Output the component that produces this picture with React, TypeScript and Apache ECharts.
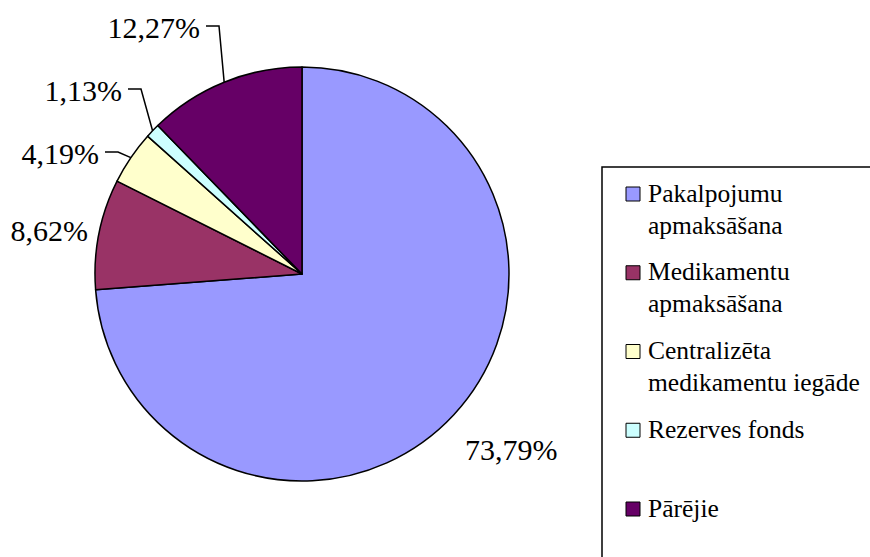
import React, { useEffect, useRef } from "react";
import * as echarts from "echarts";

const NAMES = [
  "Pakalpojumu apmaksāšana",
  "Medikamentu apmaksāšana",
  "Centralizēta medikamentu iegāde",
  "Rezerves fonds",
  "Pārējie",
];
const LEGEND_LINES = [
  ["Pakalpojumu", "apmaksāšana"],
  ["Medikamentu", "apmaksāšana"],
  ["Centralizēta", "medikamentu iegāde"],
  ["Rezerves fonds"],
  ["Pārējie"],
];
const VALUES = [73.79, 8.62, 4.19, 1.13, 12.27];
const COLORS = ["#9999FF", "#993366", "#FFFFCC", "#CCFFFF", "#660066"];

const CENTER = [302, 274];
const RADIUS = 207;
const W = 870;

// label anchor: right edge (or left edge for the big slice) and vertical centre
const LABEL_ANCHORS: { x: number; y: number; side: string; line: boolean }[] = [
  { x: 465, y: 450, side: "left", line: false },
  { x: 88, y: 231, side: "right", line: false },
  { x: 99, y: 154, side: "right", line: true },
  { x: 122, y: 91, side: "right", line: true },
  { x: 200, y: 28, side: "right", line: true },
];

const fmt = (v: number) => v.toFixed(2).replace(".", ",") + "%";

export default function App() {
  const ref = useRef<HTMLDivElement>(null);
  useEffect(() => {
    if (!ref.current) return;
    const chart = echarts.init(ref.current, null, { renderer: "svg" });

    const total = VALUES.reduce((s, v) => s + v, 0);
    const graphics: any[] = [
      {
        type: "rect",
        shape: { x: 602, y: 167, width: 320, height: 440 },
        style: { fill: "none", stroke: "#000", lineWidth: 1.5 },
        silent: true,
      },
    ];

    // slice labels and leader lines
    let cum = 0;
    VALUES.forEach((v, i) => {
      const a = LABEL_ANCHORS[i];
      const midDeg = 90 - (360 * (cum + v / 2)) / total;
      cum += v;
      const rad = (midDeg * Math.PI) / 180;
      const mx = CENTER[0] + RADIUS * Math.cos(rad);
      const my = CENTER[1] - RADIUS * Math.sin(rad);
      if (a.line) {
        graphics.push({
          type: "polyline",
          silent: true,
          shape: {
            points: [
              [mx, my],
              [a.x + 19, a.y - 2],
              [a.x + 6, a.y - 2],
            ],
          },
          style: { stroke: "#000", lineWidth: 1.5, fill: "none" },
          z: 10,
        });
      }
      const pos: any =
        a.side === "right" ? { right: W - a.x } : { left: a.x };
      graphics.push(
        Object.assign(pos, {
          type: "text",
          silent: true,
          top: a.y - 16,
          z: 10,
          style: { text: fmt(v), font: "30px serif", fill: "#000" },
        })
      );
    });

    // legend
    NAMES.forEach((_, i) => {
      const cy = 194 + i * 78.75;
      graphics.push({
        type: "rect",
        silent: true,
        shape: { x: 626, y: cy - 7, width: 14, height: 14 },
        style: { fill: COLORS[i], stroke: "#000", lineWidth: 1 },
      });
      LEGEND_LINES[i].forEach((line, j) => {
        graphics.push({
          type: "text",
          silent: true,
          left: 648,
          top: cy + j * 32 - 14,
          style: { text: line, font: "25.5px serif", fill: "#000" },
        });
      });
    });

    const option: any = {
      animation: false,
      backgroundColor: "#fff",
      graphic: graphics,
      series: [
        {
          type: "pie",
          center: CENTER,
          radius: RADIUS,
          startAngle: 90,
          clockwise: true,
          avoidLabelOverlap: false,
          emphasis: { disabled: true },
          itemStyle: { borderColor: "#000", borderWidth: 1.5 },
          label: { show: false },
          labelLine: { show: false },
          data: NAMES.map((n, i) => ({
            name: n,
            value: VALUES[i],
            itemStyle: { color: COLORS[i] },
          })),
        },
      ],
    };
    chart.setOption(option);
    return () => chart.dispose();
  }, []);
  return (
    <div
      ref={ref}
      style={{ position: "fixed", left: 0, top: 0, width: 870, height: 557 }}
    />
  );
}
